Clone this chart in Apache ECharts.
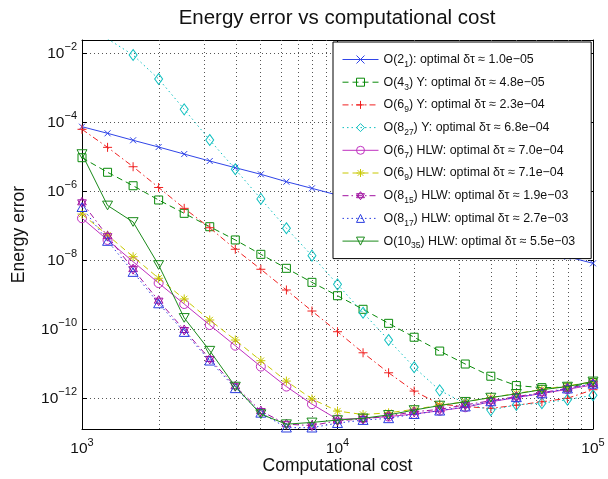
<!DOCTYPE html>
<html><head><meta charset="utf-8">
<script src="https://cdn.jsdelivr.net/npm/echarts@6/dist/echarts.min.js"></script>
<style>html,body{margin:0;padding:0;background:#fff}#c{width:608px;height:479px}</style>
</head><body><div id="c"></div>
<script>
// ---------------- data ----------------
const costs = [1000, 1259, 1585, 1995, 2512, 3162, 3981, 5012, 6310, 7943, 10000,
  12589, 15849, 19953, 25119, 31623, 39811, 50119, 63096, 79433, 100000];

const err_O2_1 = [7.45e-5, 4.80e-5, 3.01e-5, 1.92e-5, 1.20e-5, 7.55e-6, 4.83e-6, 3.11e-6, 1.90e-6, 1.22e-6,
  7.76e-7, 4.90e-7, 3.09e-7, 1.95e-7, 1.26e-7, 7.94e-8, 5.01e-8, 3.16e-8, 2.00e-8, 1.27e-8, 8.18e-9];
const err_O4_3Y = [9.42e-6, 3.56e-6, 1.45e-6, 5.60e-7, 2.30e-7, 9.42e-8, 3.89e-8, 1.49e-8, 5.86e-9, 2.30e-9,
  9.42e-10, 3.80e-10, 1.49e-10, 5.89e-11, 2.34e-11, 9.86e-12, 4.37e-12, 2.34e-12, 2.04e-12, 2.09e-12, 2.88e-12];
const err_O6_9Y = [6.27e-5, 1.88e-5, 5.16e-6, 1.29e-6, 3.21e-7, 8.81e-8, 2.09e-8, 5.50e-9, 1.38e-9, 3.39e-10,
  8.51e-11, 2.09e-11, 5.50e-12, 1.62e-12, 6.76e-13, 5.75e-13, 5.13e-13, 6.31e-13, 7.94e-13, 1.00e-12, 1.78e-12];
const err_O8_27Y = [null, 2.63e-2, 8.91e-3, 1.80e-3, 2.38e-4, 3.07e-5, 4.35e-6, 6.03e-7, 8.51e-8, 1.36e-8,
  2.01e-9, 3.02e-10, 4.90e-11, 7.94e-12, 1.70e-12, 7.08e-13, 4.57e-13, 6.46e-13, 7.24e-13, 9.12e-13, 1.23e-12];
const err_O6_7HLW = [1.66e-7, 3.89e-8, 9.12e-9, 2.19e-9, 5.41e-10, 1.33e-10, 3.35e-11, 8.32e-12, 2.19e-12, 6.76e-13,
  2.45e-13, 2.63e-13, 2.95e-13, 3.51e-13, 4.37e-13, 5.50e-13, 7.94e-13, 1.05e-12, 1.38e-12, 1.82e-12, 2.45e-12];
const err_O6_9HLW = [2.19e-7, 5.37e-8, 1.27e-8, 3.02e-9, 7.59e-10, 1.86e-10, 4.90e-11, 1.23e-11, 3.16e-12, 9.55e-13,
  4.27e-13, 3.39e-13, 3.80e-13, 4.79e-13, 6.31e-13, 7.94e-13, 1.05e-12, 1.38e-12, 1.82e-12, 2.29e-12, 3.02e-12];
const err_O8_15HLW = [4.79e-7, 5.01e-8, 5.55e-9, 6.76e-10, 9.55e-11, 1.38e-11, 2.24e-12, 4.27e-13, 1.78e-13, 1.62e-13,
  2.24e-13, 2.51e-13, 3.09e-13, 4.07e-13, 4.79e-13, 6.46e-13, 8.51e-13, 1.12e-12, 1.45e-12, 1.95e-12, 2.69e-12];
const err_O8_17HLW = [3.47e-7, 3.63e-8, 4.57e-9, 5.62e-10, 8.32e-11, 1.23e-11, 1.95e-12, 3.80e-13, 1.41e-13, 1.41e-13,
  1.91e-13, 2.34e-13, 2.63e-13, 3.47e-13, 4.37e-13, 5.75e-13, 8.13e-13, 1.07e-12, 1.38e-12, 1.91e-12, 2.63e-12];
const err_O10_35HLW = [1.20e-5, 3.89e-7, 1.29e-7, 7.31e-9, 2.14e-10, 2.40e-11, 2.19e-12, 3.47e-13, 1.78e-13, 2.00e-13,
  2.34e-13, 2.63e-13, 3.31e-13, 4.57e-13, 6.17e-13, 7.94e-13, 1.05e-12, 1.35e-12, 1.78e-12, 2.19e-12, 3.09e-12];

const legendOrders = ['2', '4', '6', '8', '6', '6', '8', '8', '10'];
const legendSubs = ['1', '3', '9', '27', '7', '9', '15', '17', '35'];
const legendMethods = ['', ' Y', ' Y', ' Y', ' HLW', ' HLW', ' HLW', ' HLW', ' HLW'];
const legendDt = ['1.0e\u221205', '4.8e\u221205', '2.3e\u221204', '6.8e\u221204', '7.0e\u221204',
  '7.1e\u221204', '1.9e\u221203', '2.7e\u221203', '5.5e\u221203'];

const xMinorGrid = [2000, 3000, 4000, 5000, 6000, 7000, 8000, 9000,
  20000, 30000, 40000, 50000, 60000, 70000, 80000, 90000];

const xMin = 1000, xMax = 100000;
const yMin = 1.29e-13, yMax = 2.43e-2;

// ---------------- styling ----------------
const FONT = '"Liberation Sans", Arial, Helvetica, sans-serif';
const SYM = {
  x: 'path://M0,0L10,10M10,0L0,10',
  plus: 'path://M5,0L5,10M0,5L10,5',
  star: 'path://M5,0L5,10M0,5L10,5M1.5,1.5L8.5,8.5M8.5,1.5L1.5,8.5',
  hex: 'path://M5,0L9.33,7.5L0.67,7.5ZM5,10L0.67,2.5L9.33,2.5Z',
  tri: 'path://M5,0L10,8.66L0,8.66Z',
  triDown: 'path://M0,0L10,0L5,8.66Z'
};
const specs = [
  {vals: err_O2_1, color: '#3045e8', dash: 'solid', sym: SYM.x, size: 6},
  {vals: err_O4_3Y, color: '#0a8a0a', dash: [6, 4], sym: 'rect', size: 8},
  {vals: err_O6_9Y, color: '#f02020', dash: [6, 3, 1.5, 3], sym: SYM.plus, size: 9},
  {vals: err_O8_27Y, color: '#10c0c0', dash: [1.5, 3], sym: 'diamond', size: [8, 11]},
  {vals: err_O6_7HLW, color: '#c030c0', dash: 'solid', sym: 'circle', size: 9},
  {vals: err_O6_9HLW, color: '#c8c800', dash: [6, 4], sym: SYM.star, size: 9},
  {vals: err_O8_15HLW, color: '#a010a0', dash: [6, 3, 1.5, 3], sym: SYM.hex, size: 10},
  {vals: err_O8_17HLW, color: '#2a3de0', dash: [1.5, 3], sym: SYM.tri, size: 10},
  {vals: err_O10_35HLW, color: '#1a8a1a', dash: 'solid', sym: SYM.triDown, size: 10}
];

const names = legendOrders.map((o, i) =>
  'O(' + o + '_' + legendSubs[i] + ')' + legendMethods[i] + ': optimal \u03b4\u03c4 \u2248 ' + legendDt[i]);
const richNames = legendOrders.map((o, i) =>
  '{t|O(' + o + '}{u|' + legendSubs[i] + '}{t|)' + legendMethods[i] + ': optimal \u03b4\u03c4 \u2248 ' + legendDt[i] + '}');

const series = specs.map((s, i) => ({
  name: names[i],
  type: 'line',
  data: costs.map((c, k) => [c, s.vals[k]]).filter(p => p[1] != null),
  symbol: s.sym,
  symbolSize: s.size,
  symbolKeepAspect: true,
  showSymbol: true,
  showAllSymbol: true,
  clip: true,
  lineStyle: {color: s.color, width: 1, type: s.dash},
  itemStyle: {color: 'rgba(0,0,0,0)', borderColor: s.color, borderWidth: 1},
  emphasis: {disabled: true},
  animation: false,
  z: 2 + i * 0.01
}));

series.push({
  name: '_grid',
  type: 'line',
  data: [],
  silent: true,
  animation: false,
  markLine: {
    silent: true, z: 1, animation: false,
    symbol: ['none', 'none'],
    label: {show: false},
    emphasis: {disabled: true},
    lineStyle: {type: [1, 3], color: '#555', width: 1},
    data: xMinorGrid.map(v => ({xAxis: v}))
  }
});

const xLabelFmt = v => '{b|10}{s|' + Math.round(Math.log10(v)) + '}';
const yLabelFmt = v => '{b|10}{s|\u2212' + (-Math.round(Math.log10(v))) + '}';
const labelRich = {
  b: {fontSize: 15.5, lineHeight: 24, fontFamily: FONT, color: '#111'},
  s: {fontSize: 11, lineHeight: 11, verticalAlign: 'top', fontFamily: FONT, color: '#111'}
};
const axisLineStyle = {color: '#000', width: 1};
const gridLine = {show: true, lineStyle: {type: [1, 3], color: '#555', width: 1}};

const option = {
  animation: false,
  backgroundColor: '#fff',
  title: {
    text: 'Energy error vs computational cost',
    left: 337, top: 7, textAlign: 'center', padding: 0,
    textStyle: {fontFamily: FONT, fontSize: 20.5, fontWeight: 'normal', color: '#111', lineHeight: 23}
  },
  grid: {left: 82, right: 15, top: 40, bottom: 50, containLabel: false, outerBoundsMode: 'none'},
  legend: {
    orient: 'vertical', left: 333, top: 42,
    padding: [8, 16, 8, 9],
    itemWidth: 36, itemHeight: 10, itemGap: 3.7,
    backgroundColor: '#fff', borderColor: '#000', borderWidth: 1, borderRadius: 0,
    selectedMode: false,
    data: names.map((n, i) => ({
      name: n,
      lineStyle: {color: specs[i].color, width: 1, type: specs[i].dash},
      itemStyle: {color: 'rgba(0,0,0,0)', borderColor: specs[i].color, borderWidth: 1}
    })),
    formatter: name => richNames[names.indexOf(name)],
    textStyle: {
      fontFamily: FONT, fontSize: 12.4, color: '#111',
      rich: {
        t: {fontFamily: FONT, fontSize: 12.4, lineHeight: 16, color: '#111'},
        u: {fontFamily: FONT, fontSize: 8.5, lineHeight: 9, padding: [10, 0, 0, 0], color: '#111'}
      }
    }
  },
  xAxis: [{
    type: 'log', logBase: 10, min: xMin, max: xMax, position: 'bottom',
    axisLine: {show: true, lineStyle: axisLineStyle},
    axisTick: {show: true, inside: true, length: 5, lineStyle: axisLineStyle},
    axisLabel: {formatter: xLabelFmt, rich: labelRich, margin: 8},
    splitLine: gridLine,
    name: 'Computational cost', nameLocation: 'middle', nameGap: 28, nameMoveOverlap: false,
    nameTextStyle: {fontFamily: FONT, fontSize: 17.5, color: '#111'}
  }, {
    type: 'log', logBase: 10, min: xMin, max: xMax, position: 'top',
    axisLine: {show: true, lineStyle: axisLineStyle},
    axisTick: {show: true, inside: true, length: 5, lineStyle: axisLineStyle},
    axisLabel: {show: false}, splitLine: {show: false}
  }],
  yAxis: [{
    type: 'log', logBase: 100, min: yMin, max: yMax, position: 'left',
    axisLine: {show: true, lineStyle: axisLineStyle},
    axisTick: {show: true, inside: true, length: 5, lineStyle: axisLineStyle},
    axisLabel: {formatter: yLabelFmt, rich: labelRich, margin: 5, showMinLabel: false, showMaxLabel: false},
    splitLine: gridLine,
    name: 'Energy error', nameLocation: 'middle', nameGap: 54, nameRotate: 90, nameMoveOverlap: false,
    nameTextStyle: {fontFamily: FONT, fontSize: 17.5, color: '#111'}
  }, {
    type: 'log', logBase: 100, min: yMin, max: yMax, position: 'right',
    axisLine: {show: true, lineStyle: axisLineStyle},
    axisTick: {show: true, inside: true, length: 5, lineStyle: axisLineStyle},
    axisLabel: {show: false}, splitLine: {show: false}
  }],
  series: series
};

const chart = echarts.init(document.getElementById('c'), null, {renderer: 'canvas'});
chart.setOption(option);
</script>
</body></html>
